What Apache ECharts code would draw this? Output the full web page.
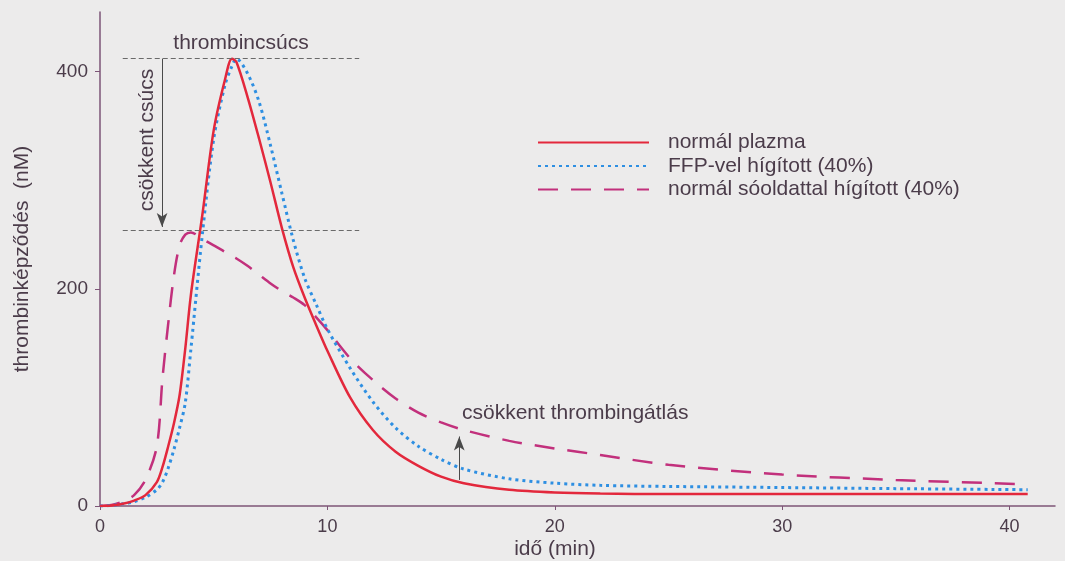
<!DOCTYPE html>
<html>
<head>
<meta charset="utf-8">
<script src="https://cdn.jsdelivr.net/npm/echarts@6/dist/echarts.min.js"></script>
<style>
  html, body { margin: 0; padding: 0; background: #ecebeb; }
  #chart { width: 1065px; height: 561px; }
</style>
</head>
<body>
<div id="chart"></div>
<script>
// idő (min)
const times = [0, 0.5, 1, 1.5, 2, 2.5, 2.75, 3, 3.25, 3.5, 3.75, 4, 4.5, 5, 5.5, 5.8, 6, 6.5, 7, 7.5,
  8, 8.5, 9, 9.5, 10, 11, 12, 13, 14, 15, 16, 18, 20, 22, 25, 30, 35, 40.8];
// thrombinképződés (nM)
const normalPlazma = [0, 0.5, 2, 5, 10, 22, 36, 55, 76, 102, 145, 195, 268, 346, 393, 412, 409, 376, 338, 298,
  256, 220, 192, 167, 143, 100, 70, 50, 37, 27, 21, 15, 12.5, 11.5, 11, 11, 11, 11];
const ffpHigitott = [0, 0.5, 2, 4, 8, 15, 22, 35, 52, 72, 95, 145, 250, 338, 388, 405, 412, 398, 372, 332,
  288, 245, 210, 186, 163, 127, 96, 72, 55, 43, 34, 25, 21, 19, 18, 17, 16, 15];
const sooldatHigitott = [0, 1, 4, 10, 24, 55, 118, 168, 212, 240, 250, 252, 246, 240, 234, 230, 228, 221, 213, 205,
  198, 192, 185, 174, 162, 136, 116, 99, 86, 77, 70, 60, 53, 47, 38, 29, 24, 20];
const seriesNames = ['normál plazma', 'FFP-vel hígított (40%)', 'normál sóoldattal hígított (40%)'];
const xTicks = [0, 10, 20, 30, 40];
const yTicks = [0, 200, 400];

const font = 'Liberation Sans, Arial, sans-serif';
const textColor = '#4b3c4a';
const axisColor = '#7d5577';

function pairs(vals) {
  return times.map((t, i) => [t, vals[i]]);
}

const chart = echarts.init(document.getElementById('chart'));

const guideStyle = { color: '#6a6a6a', width: 1, type: [5, 3] };
const arrowStyle = { color: '#4a4a4a', width: 1, type: 'solid' };

const option = {
  backgroundColor: '#ecebeb',
  animation: false,
  textStyle: { fontFamily: font },
  grid: { left: 100, right: 10, top: 12, bottom: 55 },
  legend: {
    data: seriesNames,
    orient: 'vertical',
    left: 532,
    top: 127,
    itemWidth: 111,
    itemHeight: 14,
    itemGap: 2.5,
    selectedMode: false,
    itemStyle: { opacity: 0, borderWidth: 0 },
    textStyle: { color: textColor, fontSize: 21, fontFamily: font, padding: [0, 0, 0, 14] }
  },
  xAxis: {
    type: 'value',
    min: 0,
    max: 42,
    interval: 10,
    splitLine: { show: false },
    axisLine: { lineStyle: { color: axisColor, width: 1.5 } },
    axisTick: { customValues: xTicks, length: 4, lineStyle: { color: axisColor } },
    axisLabel: { customValues: xTicks, color: textColor, fontSize: 18, margin: 12, fontFamily: font }
  },
  yAxis: {
    type: 'value',
    min: 0,
    max: 455,
    interval: 200,
    name: 'thrombinképződés  (nM)',
    nameLocation: 'middle',
    nameGap: 67,
    nameTextStyle: { color: textColor, fontSize: 21, fontFamily: font },
    splitLine: { show: false },
    axisLine: { show: true, lineStyle: { color: axisColor, width: 1.5 } },
    axisTick: { show: true, customValues: yTicks, length: 5, lineStyle: { color: axisColor } },
    axisLabel: { customValues: yTicks, color: textColor, fontSize: 19, margin: 12, fontFamily: font }
  },
  series: [
    {
      name: seriesNames[2],
      type: 'line',
      data: pairs(sooldatHigitott),
      symbol: 'none',
      smooth: 0.3,
      lineStyle: { color: '#c2307c', width: 2.5, type: [20, 13] },
      itemStyle: { color: '#c2307c' },
      z: 2
    },
    {
      name: seriesNames[1],
      type: 'line',
      data: pairs(ffpHigitott),
      symbol: 'none',
      smooth: 0.3,
      lineStyle: { color: '#2e8fe2', width: 3, type: [3, 4] },
      itemStyle: { color: '#2e8fe2' },
      z: 3
    },
    {
      name: seriesNames[0],
      type: 'line',
      data: pairs(normalPlazma),
      symbol: 'none',
      smooth: 0.3,
      lineStyle: { color: '#e3283c', width: 2.5 },
      itemStyle: { color: '#e3283c' },
      z: 4,
      markLine: {
        silent: true,
        animation: false,
        label: { show: false },
        symbol: ['none', 'none'],
        data: [
          [{ coord: [1, 412], lineStyle: guideStyle }, { coord: [11.4, 412] }],
          [{ coord: [1, 254], lineStyle: guideStyle }, { coord: [11.4, 254] }],
          [{ coord: [2.73, 412], lineStyle: arrowStyle, symbol: 'none' }, { coord: [2.73, 257], symbol: 'arrow', symbolSize: [8, 14] }],
          [{ coord: [15.8, 24], lineStyle: arrowStyle, symbol: 'none' }, { coord: [15.8, 64], symbol: 'arrow', symbolSize: [8, 14] }]
        ]
      }
    }
  ],
  graphic: [
    {
      type: 'text', x: 241, y: 43,
      style: { text: 'thrombincsúcs', fill: textColor, font: '21px ' + font, align: 'center', verticalAlign: 'middle' }
    },
    {
      type: 'text', x: 147, y: 140, rotation: Math.PI / 2,
      style: { text: 'csökkent csúcs', fill: textColor, font: '21px ' + font, align: 'center', verticalAlign: 'middle' }
    },
    {
      type: 'text', x: 462, y: 413,
      style: { text: 'csökkent thrombingátlás', fill: textColor, font: '21px ' + font, align: 'left', verticalAlign: 'middle' }
    },
    {
      type: 'text', x: 555, y: 549,
      style: { text: 'idő (min)', fill: textColor, font: '21px ' + font, align: 'center', verticalAlign: 'middle' }
    }
  ]
};

chart.setOption(option);
</script>
</body>
</html>
